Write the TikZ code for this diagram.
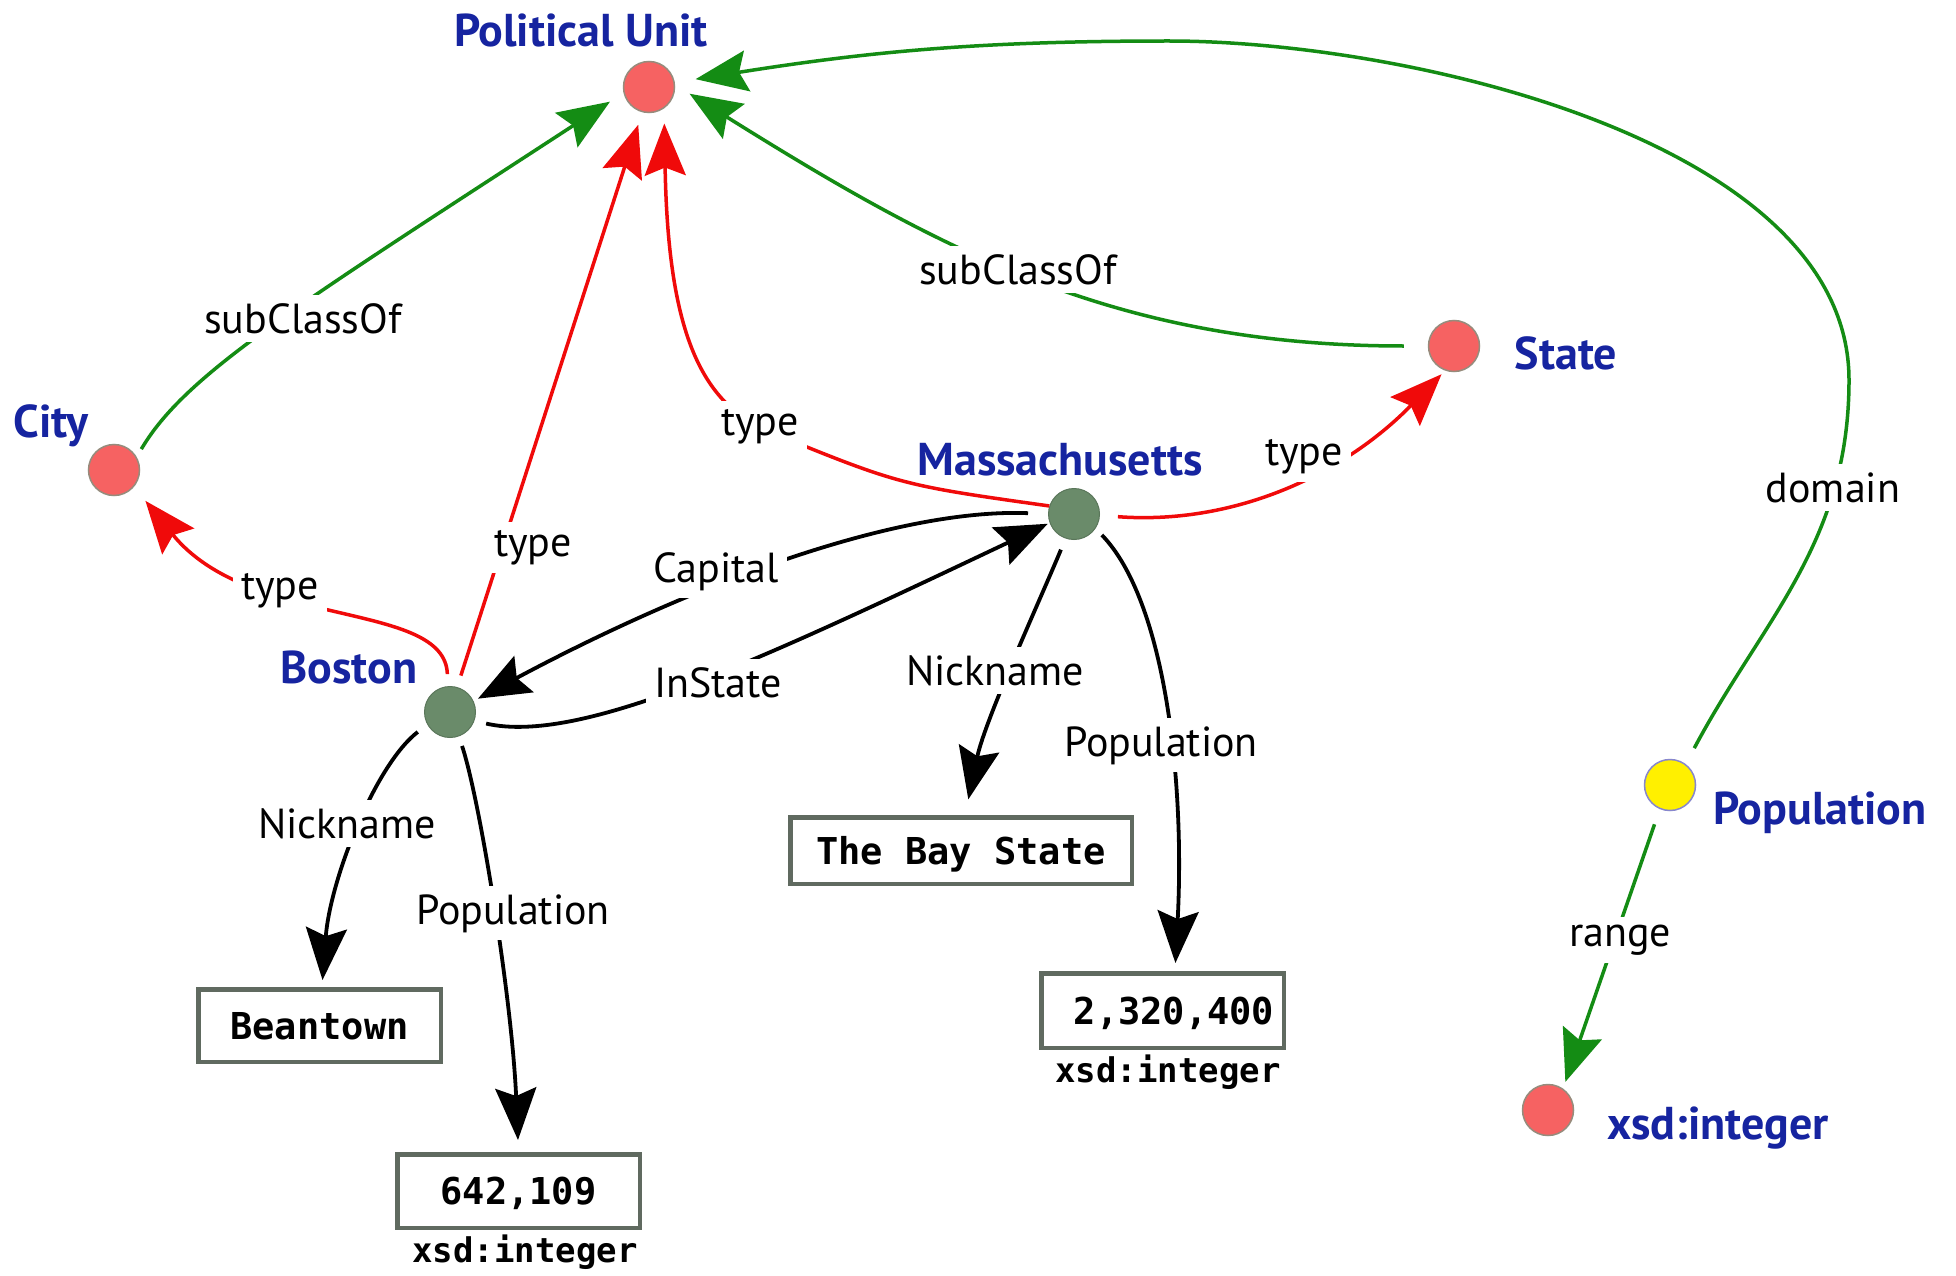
\documentclass[tikz,border=0pt]{standalone}
\usepackage{fontspec}
\setmainfont{PT Sans}
\setmonofont{DejaVu Sans Mono}
\usetikzlibrary{arrows.meta}

\definecolor{clsred}{RGB}{246,98,98}
\definecolor{clsedge}{RGB}{150,140,125}
\definecolor{instgreen}{RGB}{106,139,106}
\definecolor{propyellow}{RGB}{255,240,0}
\definecolor{propedge}{RGB}{135,135,205}
\definecolor{lblblue}{RGB}{22,36,160}
\definecolor{relgreen}{RGB}{20,140,20}
\definecolor{relred}{RGB}{240,10,10}
\definecolor{boxedge}{RGB}{96,106,96}

\tikzset{
  x=1pt, y=1pt,
  cls/.style={circle, minimum size=51pt, inner sep=0pt, fill=clsred, draw=clsedge, line width=1.5pt},
  inst/.style={circle, minimum size=51pt, inner sep=0pt, fill=instgreen, draw=instgreen!85!black, line width=1pt},
  prop/.style={circle, minimum size=51pt, inner sep=0pt, fill=propyellow, draw=propedge, line width=1.5pt},
  nodename/.style={anchor=base, text=lblblue, inner sep=0pt, font=\fontsize{46}{52}\selectfont\bfseries},
  elabel/.style={anchor=base, text=black, fill=white, inner sep=8pt, font=\fontsize{42}{48}\selectfont},
  lit/.style={draw=boxedge, line width=4.5pt, fill=white, inner sep=0pt, text height=27pt, text depth=0pt,
              font=\fontsize{37}{44}\selectfont\ttfamily\bfseries},
  dtype/.style={anchor=base, inner sep=0pt, font=\fontsize{34}{40}\selectfont\ttfamily\bfseries},
  bigtip/.style={-{Stealth[length=52pt,width=41pt,inset=8pt]}},
  subcls/.style={draw=relgreen, line width=3.5pt, bigtip},
  typ/.style={draw=relred, line width=3.5pt, bigtip},
  prel/.style={draw=black, line width=3.8pt, bigtip},
}

\begin{document}
\begin{tikzpicture}
\fill[white] (0,0) rectangle (1956,-1276);
\useasboundingbox (0,0) rectangle (1956,-1276);

% classes, instances and the property
\node[cls]  (PU)     at (649,-87)   {};
\node[cls]  (City)   at (114,-470)  {};
\node[cls]  (State)  at (1454,-346) {};
\node[cls]  (XSD)    at (1548,-1110) {};
\node[inst] (Mass)   at (1074,-514) {};
\node[inst] (Boston) at (450,-712)  {};
\node[prop] (Pop)    at (1670,-785) {};

% their names
\node[nodename] (PUname)     at (581,-47)    {Political Unit};
\node[nodename] (Cityname)   at (51,-437)    {City};
\node[nodename] (Statename)  at (1566,-369)  {State};
\node[nodename] (Massname)   at (1060,-475)  {Massachusetts};
\node[nodename] (Bostonname) at (349,-683)   {Boston};
\node[nodename] (Popname)    at (1820,-824)  {Population};
\node[nodename] (XSDname)    at (1718,-1139) {xsd:integer};

% literal values
\node[lit, minimum width=242.5pt, minimum height=72.5pt] (Bean)  at (319.5,-1025.5) {Beantown};
\node[lit, minimum width=242.5pt, minimum height=73.5pt] (N642)  at (518.5,-1191)  {642,109\hspace{20pt}};
\node[lit, minimum width=341.5pt, minimum height=66.5pt] (Bay)   at (961,-850.5)    {The Bay State};
\node[lit, minimum width=242.5pt, minimum height=74.5pt] (N2320) at (1162.5,-1010.5) {\hspace{23pt}2,320,400};
\node[dtype] (D642)  at (525,-1262)  {xsd:integer};
\node[dtype] (D2320) at (1168,-1082) {xsd:integer};

% subClassOf
\draw[subcls, shorten <=9pt, shorten >=16pt]
  (City.30) .. controls (185,-375) and (290,-310) .. (PU.-167)
  node[elabel] (lSubCity) at (303,-333) {subClassOf};
\draw[subcls, shorten <=24pt, shorten >=17pt]
  (State.180) to[out=180, in=-32] (PU.5)
  node[elabel] (lSubState) at (1018,-284) {subClassOf};

% type
\draw[typ, shorten <=12pt, shorten >=13pt]
  (Boston.74) -- (PU.-105)
  node[elabel] (lTypeB) at (533,-556) {type};
\draw[typ, shorten >=15pt]
  (Mass.162) .. controls (900,-485) .. (765,-430)
  .. controls (700,-400) and (668,-330) .. (PU.-55)
  node[elabel] (lTypeM) at (760,-435) {type};
\draw[typ, shorten <=12pt, shorten >=18pt]
  (Boston.95) .. controls (445,-600) and (250,-630) .. (City.-40)
  node[elabel] (lTypeBC) at (280,-599) {type};
\draw[typ, shorten <=18pt, shorten >=5pt]
  (Mass.-3) .. controls (1230,-525) and (1340,-478) .. (State.-110)
  node[elabel] (lTypeMS) at (1304,-465) {type};

% relations between the instances
\draw[prel, shorten <=20pt, shorten >=5pt]
  (Mass.180) .. controls (900,-508) and (700,-580) .. (Boston.25)
  node[elabel] (lCapital) at (716,-582) {Capital};
\draw[prel, shorten <=12pt, shorten >=2pt]
  (Boston.-20) .. controls (580,-745) and (760,-660) .. (Mass.200)
  node[elabel] (lInState) at (718,-697) {InState};

% literal-valued properties
\draw[prel, shorten <=12pt, shorten >=16pt]
  (Mass.-109) .. controls (1040,-600) and (985,-720) .. ([xshift=4pt]Bay.north)
  node[elabel] (lNickM) at (995,-685) {Nickname};
\draw[prel, shorten <=9pt, shorten >=8pt]
  (Mass.-34) .. controls (1165,-600) and (1185,-780) .. ([xshift=12.5pt]N2320.north)
  node[elabel] (lPopM) at (1161,-756) {Population};
\draw[prel, shorten <=12pt, shorten >=7pt]
  (Boston.-151) .. controls (375,-765) and (330,-880) .. ([xshift=2.5pt]Bean.north)
  node[elabel] (lNickB) at (347,-838) {Nickname};
\draw[prel, shorten <=10pt, shorten >=12pt]
  (Boston.-70) .. controls (480,-800) and (512,-1000) .. (N642.north)
  node[elabel] (lPopB) at (513,-924) {Population};

% domain and range of Population
\draw[subcls, shorten <=18pt, shorten >=21pt]
  (Pop.53) to[out=62, in=-90] (1849,-380)
  to[out=90, in=0, looseness=0.8] (1169,-41)
  to[out=180, in=9] (PU.10)
  node[elabel] (lDomain) at (1833,-502) {domain};
\draw[subcls, shorten <=16pt, shorten >=7pt]
  (Pop.-113) -- (XSD.55)
  node[elabel] (lRange) at (1620,-946) {range};
\end{tikzpicture}
\end{document}
